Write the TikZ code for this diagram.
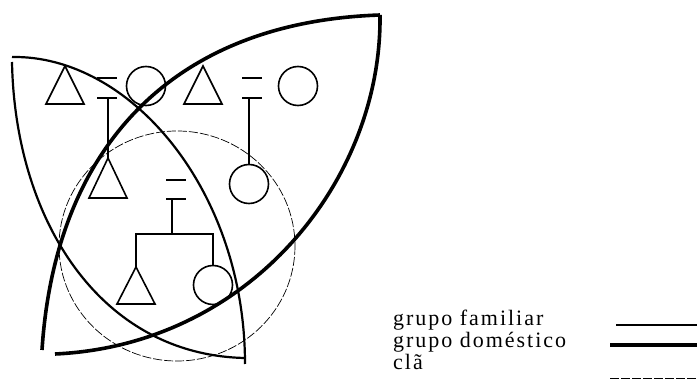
\documentclass[tikz,border=0pt]{standalone}
\usepackage{fontspec}
\setmainfont{Liberation Serif}
\tikzset{
  kin/.style={line width=1.6pt},
  female/.style={kin, draw, circle, minimum size=39pt, inner sep=0pt},
  familiar/.style={line width=2.2pt},
  domestico/.style={line width=3.6pt},
  cla/.style={line width=0.7pt, dash pattern=on 9pt off 2pt},
  legend/.style={anchor=base west, inner sep=0pt,
    font=\fontsize{22}{22}\selectfont\addfontfeature{LetterSpace=9}},
}
\begin{document}
\begin{tikzpicture}[x=1pt,y=-1pt]
\useasboundingbox (0,0) rectangle (697,382);
% grupo familiar, grupo domestico, cla
\draw[familiar] (12,57) .. controls (130,55) and (245,190) .. (245,364);
\draw[familiar] (12,62) .. controls (15,220) and (100,355) .. (245,358);
\draw[domestico] (42,350) .. controls (55,150) and (170,22) .. (380,15);
\draw[domestico] (380,15) .. controls (382,180) and (250,345) .. (55,354);
\draw[cla] (177,246) ellipse [x radius=118, y radius=115];
% men
\coordinate (t1) at (65,66);
\coordinate (t2) at (108,158);
\coordinate (t3) at (203,66);
\coordinate (t4) at (136,267);
\draw[kin] (t1) -- ++(-19,38) -- ++(38,0) -- cycle;
\draw[kin] (t2) -- ++(-19,40) -- ++(38,0) -- cycle;
\draw[kin] (t3) -- ++(-19,38) -- ++(38,0) -- cycle;
\draw[kin] (t4) -- ++(-19,37) -- ++(38,0) -- cycle;
% women
\node[female] (c1) at (146,86) {};
\node[female] (c2) at (298,86) {};
\node[female] (c3) at (249,184) {};
\node[female] (c4) at (213,285) {};
% marriages
\draw[kin] (97,78) -- (117,78) (97,98) -- (117,98);
\draw[kin] (242,78) -- (262,78) (242,98) -- (262,98);
\draw[kin] (166,180) -- (186,180) (166,199) -- (186,199);
\coordinate (m1) at (108,98);
\coordinate (m2) at (249,98);
\coordinate (m3) at (172,199);
\draw[kin] (m1) -- (t2);
\draw[kin] (m2) -- (c3);
\draw[kin] (m3) -- ++(0,35) coordinate (sib);
\draw[kin] (t4) |- (sib) -| (c4);
% legenda
\node[legend] (lfam) at (393,326) {grupo familiar};
\node[legend] (ldom) at (393,348) {grupo doméstico};
\node[legend] (lcla) at (393,370) {clã};
\draw[familiar] (616,325) -- (697,325);
\draw[domestico] (610,345) -- (697,345);
\draw[cla] (610,378) -- (697,378);
\end{tikzpicture}
\end{document}
